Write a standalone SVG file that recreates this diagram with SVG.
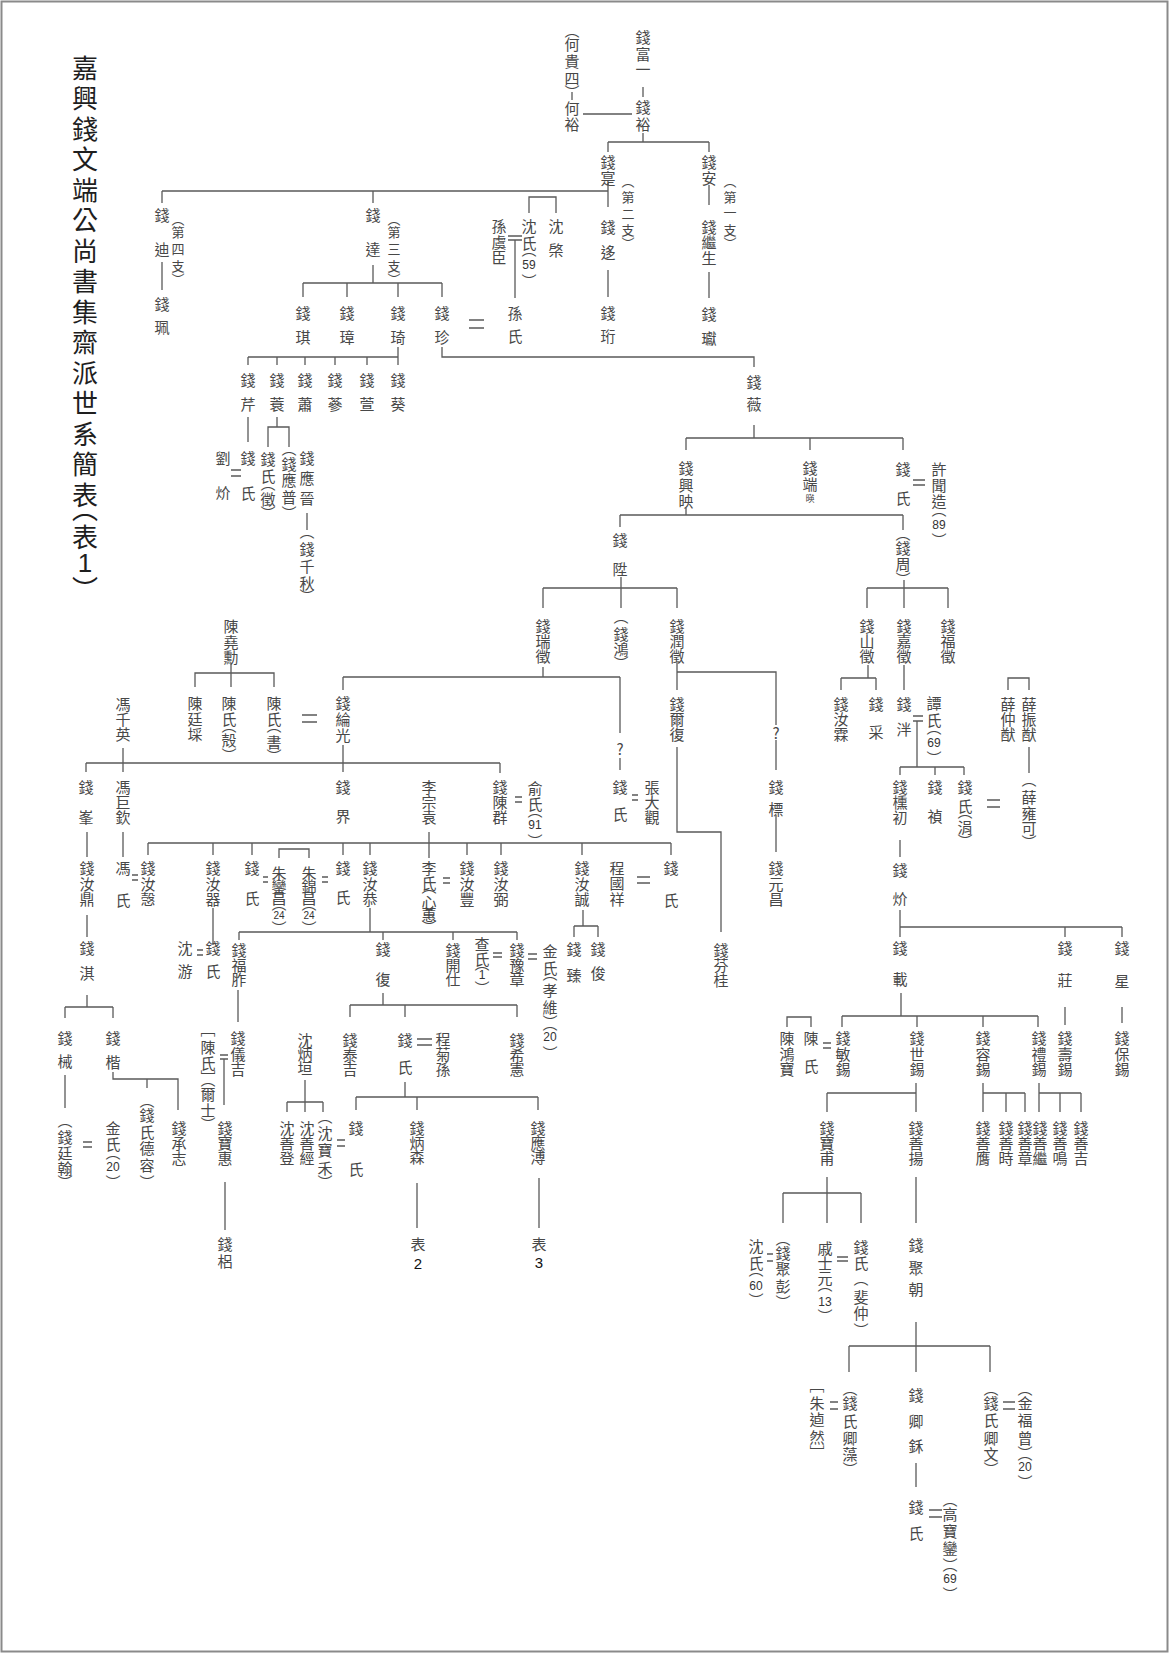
<svg xmlns="http://www.w3.org/2000/svg" width="1170" height="1654" viewBox="0 0 1170 1654">
<style>
.n{font-family:"Noto Sans CJK TC","Noto Sans CJK SC",sans-serif;font-size:15px;fill:#484848;text-anchor:middle;dominant-baseline:central}
.sm{font-size:13px}
.d{font-family:"Liberation Sans","DejaVu Sans",sans-serif;font-size:12px;fill:#333;text-anchor:middle;dominant-baseline:central}
.d2{font-size:10px}
.ttl{font-family:"Noto Sans CJK TC","Noto Sans CJK SC",sans-serif;font-size:26px;fill:#1e1e1e;text-anchor:middle;dominant-baseline:central}
.c path{stroke:#5a5a5a;stroke-width:1.3;fill:none}
</style>
<rect x="1.5" y="1.5" width="1166" height="1650" fill="#fff" stroke="#8a8a8a" stroke-width="2"/>
<g id="title">
<text class="ttl" x="85 85 85 85 85 85 85 85 85 85 85 85 85 85 85 85 85" y="66 96.5 127 157.5 188 218.5 249 279.5 310 340.5 371 401.5 432 462.5 493 507 535">嘉興錢文端公尚書集齋派世系簡表︵表</text>
<text class="ttl" x="85" y="563" style="font-family:'Liberation Sans',sans-serif">1</text>
<text class="ttl" x="85" y="587">︶</text>
</g>
<g class="c" id="connectors">
<path d="M643,87V97M572,92V100M583,114H632M643,133V142M608,142H709M608,142V152M709,142V152M608,183V207M162,191H608M162,191V203M373,191V203M709,185V205M709,272V298M608,270V297"/>
<path d="M529,213V197H556V213M508,236H522M508,240H522M515,240V298M162,262V290M373,265V283M303,283H442M303,283V297M347,283V297M398,283V297M442,283V297M469,320H484M469,328H484"/>
<path d="M398,347V365M248,357H398M248,357V365M277,357V365M305,357V365M335,357V365M367,357V365M442,347V357H754V367"/>
<path d="M248,417V442M231,470H241M231,476H241M277,417V427M268,447V427H289V447M307,513V530"/>
<path d="M231,663V687M195,687V673H274V687M302,715H317M302,722H317"/>
<path d="M343,677V690M343,677H620M543,667V677M620,677V733M620,758V770M343,745V772M123,748V772M86,763H500M86,763V772M500,763V773M515,797H522M515,802H522M632,795H638M632,800H638"/>
<path d="M677,663V690M677,672H776V725M776,740V770M776,815V852M677,747V832H721V932"/>
<path d="M754,425V438M686,438H903M686,438V450M810,438V450M903,438V450M913,480H925M913,485H925M686,508V515M620,515H903M620,515V527M903,515V530"/>
<path d="M621,577V608M543,588H677M543,588V608M677,588V608M904,580V608M867,588H948M867,588V608M948,588V608M868,665V678M841,678H876M841,678V690M876,678V690"/>
<path d="M904,665V690M913,716H923M913,721H923M917,721V767M900,767H964M900,767V775M935,767V775M964,767V775M987,800H1000M987,807H1000M1008,690V678H1029V690M1029,747V773"/>
<path d="M87,832V857M87,915V937M87,995V1007M65,1007H113M65,1007V1018M113,1007V1018M65,1075V1108M83,1142H92M83,1147H92M113,1072V1079H178V1110M147,1079V1088M123,832V857M132,875H138M132,880H138"/>
<path d="M148,843H671M148,843V855M213,843V855M252,843V855M343,843V855M370,843V855M467,843V855M501,843V855M582,843V855M671,843V855M279,858V849H309V858M429,832V858M263,877H268M263,882H268M322,877H328M322,882H328M443,878H450M443,883H450M637,877H650M637,883H650"/>
<path d="M213,908V945M197,950H203M197,955H203M370,908V932M239,932H517M239,932V940M383,932V940M453,932V940M517,932V940M493,953H502M493,957H502M528,954H537M528,959H537M583,910V926M574,926H598M574,926V937M598,926V937"/>
<path d="M238,990V1022M220,1055H228M220,1059H228M224,1059V1105M225,1182V1230M383,993V1005M350,1005H517M350,1005V1017M405,1005V1017M517,1005V1017M417,1039H432M417,1045H432"/>
<path d="M305,1080V1112M287,1102H323M287,1102V1112M323,1102V1112M337,1140H345M337,1146H345M405,1082V1097M356,1097H538M356,1097V1110M417,1097V1110M538,1097V1110M417,1183V1228M539,1178V1228"/>
<path d="M900,840V857M900,910V937M900,927H1122M1065,927V937M1122,927V937M1065,1007V1025M1122,1007V1023M901,993V1016M842,1016H1038M842,1016V1027M917,1016V1027M983,1016V1027M1038,1016V1027M823,1043H831M823,1048H831M787,1027V1017H811V1027"/>
<path d="M916,1083V1112M827,1093H916M827,1093V1112M983,1083V1112M983,1093H1025M1006,1093V1112M1025,1093V1112M1039,1083V1112M1039,1093H1081M1060,1093V1112M1081,1093V1112"/>
<path d="M827,1177V1193M783,1193H861M783,1193V1223M827,1193V1223M861,1193V1223M767,1254H773M767,1261H773M837,1257H848M837,1261H848M916,1177V1223M916,1322V1372M849,1346H990M849,1346V1372M990,1346V1372M830,1402H838M830,1409H838M916,1463V1487M929,1510H942M929,1517H942M1003,1402H1015M1003,1409H1015"/>
</g>
<g id="n001"><text class="n" x="643 643 643" y="36 53 68">錢富一</text></g>
<g id="n002"><text class="n" x="572 572 572 572 572" y="29.5 43 60 77 91">︵何貴四︶</text></g>
<g id="n003"><text class="n" x="572 572" y="107 123">何裕</text></g>
<g id="n004"><text class="n" x="643 643" y="106 123">錢裕</text></g>
<g id="n005"><text class="n" x="608 608" y="161 177">錢寔</text></g>
<g id="n006"><text class="n sm" x="628 628 628 628 628" y="180 196 213 229 242">︵第二支︶</text></g>
<g id="n007"><text class="n" x="709 709" y="161 177">錢安</text></g>
<g id="n008"><text class="n sm" x="730 730 730 730 730" y="180 196 211 229 242">︵第一支︶</text></g>
<g id="n009"><text class="n" x="709 709 709" y="226 241 257">錢繼生</text></g>
<g id="n010"><text class="n" x="709 709" y="313 337">錢瓛</text></g>
<g id="n011"><text class="n" x="608 608" y="226 251">錢迻</text></g>
<g id="n012"><text class="n" x="608 608" y="312 335">錢珩</text></g>
<g id="n013"><text class="n" x="529 529 529 529" y="225 242 248.5 280.5">沈氏︵︶</text><text class="d" x="529" y="265">59</text></g>
<g id="n014"><text class="n" x="556 556" y="225 249">沈棨</text></g>
<g id="n015"><text class="n" x="499 499 499" y="225 241 256">孫虞臣</text></g>
<g id="n016"><text class="n" x="515 515" y="312 335">孫氏</text></g>
<g id="n017"><text class="n" x="162 162" y="214 248">錢迪</text></g>
<g id="n018"><text class="n sm" x="178 178 178 178 178" y="218 231 248 265 278">︵第四支︶</text></g>
<g id="n019"><text class="n" x="162 162" y="303 326">錢珮</text></g>
<g id="n020"><text class="n" x="373 373" y="214 248">錢達</text></g>
<g id="n021"><text class="n sm" x="394 394 394 394 394" y="218 231 248 265 278">︵第三支︶</text></g>
<g id="n022"><text class="n" x="303 303" y="312 336">錢琪</text></g>
<g id="n023"><text class="n" x="347 347" y="312 336">錢璋</text></g>
<g id="n024"><text class="n" x="398 398" y="312 336">錢琦</text></g>
<g id="n025"><text class="n" x="442 442" y="312 336">錢珍</text></g>
<g id="n026"><text class="n" x="248 248" y="379 403">錢芹</text></g>
<g id="n027"><text class="n" x="277 277" y="379 403">錢蓑</text></g>
<g id="n028"><text class="n" x="305 305" y="379 403">錢蕭</text></g>
<g id="n029"><text class="n" x="335 335" y="379 403">錢蔘</text></g>
<g id="n030"><text class="n" x="367 367" y="379 403">錢萱</text></g>
<g id="n031"><text class="n" x="398 398" y="379 403">錢葵</text></g>
<g id="n032"><text class="n" x="754 754" y="381 403">錢薇</text></g>
<g id="n033"><text class="n" x="248 248" y="457 492">錢氏</text></g>
<g id="n034"><text class="n" x="223 223" y="457 492">劉炌</text></g>
<g id="n035"><text class="n" x="268 268 268 268 268" y="458 475 482.5 498 512.5">錢氏︵徵︶</text></g>
<g id="n036"><text class="n" x="289 289 289 289 289" y="447.5 463 479 496 512.5">︵錢應普︶</text></g>
<g id="n037"><text class="n" x="307 307 307" y="457 477 497">錢應晉</text></g>
<g id="n038"><text class="n" x="307 307 307 307 307" y="530.5 548 565 582 595">︵錢千秋︶</text></g>
<g id="n039"><text class="n" x="231 231 231" y="625 641 656">陳堯勳</text></g>
<g id="n040"><text class="n" x="195 195 195" y="702 718 733">陳廷埰</text></g>
<g id="n041"><text class="n" x="229 229 229 229 229" y="702 718 724.5 739 754.5">陳氏︵殻︶</text></g>
<g id="n042"><text class="n" x="274 274 274 274 274" y="702 718 724.5 741 755.5">陳氏︵書︶</text></g>
<g id="n043"><text class="n" x="343 343 343" y="702 718 734">錢綸光</text></g>
<g id="n044"><text class="n" x="123 123 123" y="703 718 733">馮千英</text></g>
<g id="n045"><text class="n" x="86 86" y="786 816">錢峯</text></g>
<g id="n046"><text class="n" x="123 123 123" y="786 801 816">馮巨欽</text></g>
<g id="n047"><text class="n" x="343 343" y="786 815">錢界</text></g>
<g id="n048"><text class="n" x="429 429 429" y="786 801 816">李宗袁</text></g>
<g id="n049"><text class="n" x="500 500 500" y="786 801 816">錢陳群</text></g>
<g id="n050"><text class="n" x="535 535 535 535" y="787 803 809.5 840.5">俞氏︵︶</text><text class="d" x="535" y="825">91</text></g>
<g id="n051"><text class="n" x="620" y="748">?</text></g>
<g id="n052"><text class="n" x="620 620" y="786 813">錢氏</text></g>
<g id="n053"><text class="n" x="652 652 652" y="786 801 816">張大觀</text></g>
<g id="n054"><text class="n" x="677 677 677" y="703 718 733">錢爾復</text></g>
<g id="n055"><text class="n" x="776" y="732">?</text></g>
<g id="n056"><text class="n" x="776 776" y="786 808">錢標</text></g>
<g id="n057"><text class="n" x="776 776 776" y="867 883 898">錢元昌</text></g>
<g id="n058"><text class="n" x="721 721 721" y="949 964 979">錢芬桂</text></g>
<g id="n059"><text class="n" x="686 686 686" y="467 484 500">錢興映</text></g>
<g id="n060"><text class="n" x="810 810" y="467 483">錢端</text><text class="n" x="810" y="498" style="font-size:9px">暎</text></g>
<g id="n061"><text class="n" x="903 903" y="468 497">錢氏</text></g>
<g id="n062"><text class="n" x="939 939 939 939 939" y="468 484 500 508.5 539.5">許聞造︵︶</text><text class="d" x="939" y="525">89</text></g>
<g id="n063"><text class="n" x="620 620" y="539 568">錢陞</text></g>
<g id="n064"><text class="n" x="903 903 903 903" y="532.5 547 563 578.5">︵錢周︶</text></g>
<g id="n065"><text class="n" x="543 543 543" y="625 640 655">錢瑞徵</text></g>
<g id="n066"><text class="n" x="621 621 621 621" y="615.5 633 648 662.5">︵錢鴻︶</text></g>
<g id="n067"><text class="n" x="677 677 677" y="625 640 655">錢潤徵</text></g>
<g id="n068"><text class="n" x="867 867 867" y="625 640 655">錢山徵</text></g>
<g id="n069"><text class="n" x="904 904 904" y="625 640 655">錢嘉徵</text></g>
<g id="n070"><text class="n" x="948 948 948" y="625 640 655">錢福徵</text></g>
<g id="n071"><text class="n" x="841 841 841" y="703 718 733">錢汝霖</text></g>
<g id="n072"><text class="n" x="876 876" y="703 731">錢采</text></g>
<g id="n073"><text class="n" x="904 904" y="703 728">錢泮</text></g>
<g id="n074"><text class="n" x="934 934 934 934" y="702 719 726.5 757.5">譚氏︵︶</text><text class="d" x="934" y="743">69</text></g>
<g id="n075"><text class="n" x="900 900 900" y="786 801 816">錢櫄初</text></g>
<g id="n076"><text class="n" x="935 935" y="786 815">錢禎</text></g>
<g id="n077"><text class="n" x="965 965 965 965 965" y="786 805 810.5 826 840.5">錢氏︵涓︶</text></g>
<g id="n078"><text class="n" x="1008 1008 1008" y="703 718 733">薛仲猷</text></g>
<g id="n079"><text class="n" x="1029 1029 1029" y="703 718 733">薛振猷</text></g>
<g id="n080"><text class="n" x="1029 1029 1029 1029 1029" y="778.5 796 812 827 841.5">︵薛雍可︶</text></g>
<g id="n081"><text class="n" x="87 87 87" y="867 883 898">錢汝鼎</text></g>
<g id="n082"><text class="n" x="87 87" y="947 972">錢淇</text></g>
<g id="n083"><text class="n" x="65 65" y="1037 1060">錢械</text></g>
<g id="n084"><text class="n" x="113 113" y="1037 1061">錢楷</text></g>
<g id="n085"><text class="n" x="65 65 65 65 65" y="1119.5 1136 1152 1167 1181.5">︵錢廷翰︶</text></g>
<g id="n086"><text class="n" x="113 113 113 113" y="1127 1143 1151.5 1181.5">金氏︵︶</text><text class="d" x="113" y="1167">20</text></g>
<g id="n087"><text class="n" x="147 147 147 147 147 147" y="1099.5 1114 1131 1147 1164 1181.5">︵錢氏德容︶</text></g>
<g id="n088"><text class="n" x="179 179 179" y="1127 1142 1157">錢承志</text></g>
<g id="n089"><text class="n" x="123 123" y="867 899">馮氏</text></g>
<g id="n090"><text class="n" x="148 148 148" y="867 883 898">錢汝愨</text></g>
<g id="n091"><text class="n" x="213 213 213" y="867 883 898">錢汝器</text></g>
<g id="n092"><text class="n" x="252 252" y="867 897">錢氏</text></g>
<g id="n093"><text class="n" x="279 279 279 279 279" y="872 885 897 902.5 927.5">朱鑾昌︵︶</text><text class="d d2" x="279" y="915">24</text></g>
<g id="n094"><text class="n" x="309 309 309 309 309" y="872 885 897 902.5 927.5">朱錦昌︵︶</text><text class="d d2" x="309" y="915">24</text></g>
<g id="n095"><text class="n" x="343 343" y="867 896">錢氏</text></g>
<g id="n096"><text class="n" x="370 370 370" y="867 883 898">錢汝恭</text></g>
<g id="n097"><text class="n" x="429 429 429 429 429 429" y="867 882 885.5 901 913 926.5">李氏︵心蕙︶</text></g>
<g id="n098"><text class="n" x="467 467 467" y="867 883 898">錢汝豐</text></g>
<g id="n099"><text class="n" x="501 501 501" y="867 883 898">錢汝弼</text></g>
<g id="n100"><text class="n" x="582 582 582" y="867 883 898">錢汝誠</text></g>
<g id="n101"><text class="n" x="617 617 617" y="867 882 898">程國祥</text></g>
<g id="n102"><text class="n" x="671 671" y="867 899">錢氏</text></g>
<g id="n103"><text class="n" x="213 213" y="947 970">錢氏</text></g>
<g id="n104"><text class="n" x="185 185" y="947 970">沈游</text></g>
<g id="n105"><text class="n" x="239 239 239" y="949 964 978">錢福胙</text></g>
<g id="n106"><text class="n" x="383 383" y="948 978">錢復</text></g>
<g id="n107"><text class="n" x="453 453 453" y="949 964 978">錢開仕</text></g>
<g id="n108"><text class="n" x="482 482 482 482" y="943 958 962.5 987.5">查氏︵︶</text><text class="d" x="482" y="975">1</text></g>
<g id="n109"><text class="n" x="517 517 517" y="949 964 978">錢豫章</text></g>
<g id="n110"><text class="n" x="550 550 550 550 550 550 550 550" y="950 967 972.5 989 1006 1021.5 1022.5 1052.5">金氏︵孝維︶︵︶</text><text class="d" x="550" y="1037">20</text></g>
<g id="n111"><text class="n" x="574 574" y="948 974">錢臻</text></g>
<g id="n112"><text class="n" x="598 598" y="948 972">錢俊</text></g>
<g id="n113"><text class="n" x="238 238 238" y="1037 1053 1068">錢儀吉</text></g>
<g id="n114"><text class="n" x="208 208 208 208 208 208 208 208" y="1028.5 1046 1062 1076.5 1078.5 1093 1109 1123.5">﹇陳氏﹈︵爾士︶</text></g>
<g id="n115"><text class="n" x="225 225 225" y="1127 1142 1157">錢寶惠</text></g>
<g id="n116"><text class="n" x="225 225" y="1243 1260">錢梠</text></g>
<g id="n117"><text class="n" x="350 350 350" y="1039 1054 1068">錢泰吉</text></g>
<g id="n118"><text class="n" x="405 405" y="1039 1066">錢氏</text></g>
<g id="n119"><text class="n" x="443 443 443" y="1038 1053 1068">程菊孫</text></g>
<g id="n120"><text class="n" x="517 517 517" y="1039 1054 1068">錢希憲</text></g>
<g id="n121"><text class="n" x="305 305 305" y="1039 1053 1067">沈炳垣</text></g>
<g id="n122"><text class="n" x="287 287 287" y="1127 1142 1157">沈善登</text></g>
<g id="n123"><text class="n" x="307 307 307" y="1127 1142 1157">沈善經</text></g>
<g id="n124"><text class="n" x="325 325 325 325 325" y="1115.5 1132 1149 1167 1181.5">︵沈寶禾︶</text></g>
<g id="n125"><text class="n" x="356 356" y="1127 1168">錢氏</text></g>
<g id="n126"><text class="n" x="417 417 417" y="1127 1142 1156">錢炳森</text></g>
<g id="n127"><text class="n" x="538 538 538" y="1127 1142 1156">錢應溥</text></g>
<g id="n128"><text class="n" x="418" y="1243">表</text><text class="d" x="418" y="1263" style="font-size:15px;fill:#111">2</text></g>
<g id="n129"><text class="n" x="539" y="1243">表</text><text class="d" x="539" y="1262" style="font-size:15px;fill:#111">3</text></g>
<g id="n130"><text class="n" x="900 900" y="869 898">錢炌</text></g>
<g id="n131"><text class="n" x="900 900" y="947 978">錢載</text></g>
<g id="n132"><text class="n" x="1065 1065" y="947 979">錢莊</text></g>
<g id="n133"><text class="n" x="1122 1122" y="947 980">錢星</text></g>
<g id="n134"><text class="n" x="1065 1065 1065" y="1037 1053 1068">錢壽錫</text></g>
<g id="n135"><text class="n" x="1122 1122 1122" y="1037 1053 1068">錢保錫</text></g>
<g id="n136"><text class="n" x="843 843 843" y="1037 1053 1068">錢敏錫</text></g>
<g id="n137"><text class="n" x="917 917 917" y="1037 1053 1068">錢世錫</text></g>
<g id="n138"><text class="n" x="983 983 983" y="1037 1053 1068">錢容錫</text></g>
<g id="n139"><text class="n" x="1039 1039 1039" y="1037 1053 1068">錢禮錫</text></g>
<g id="n140"><text class="n" x="787 787 787" y="1037 1053 1068">陳鴻寶</text></g>
<g id="n141"><text class="n" x="811 811" y="1037 1065">陳氏</text></g>
<g id="n142"><text class="n" x="827 827 827" y="1127 1142 1157">錢寶甫</text></g>
<g id="n143"><text class="n" x="916 916 916" y="1127 1142 1157">錢善揚</text></g>
<g id="n144"><text class="n" x="983 983 983" y="1127 1142 1157">錢善膺</text></g>
<g id="n145"><text class="n" x="1006 1006 1006" y="1127 1142 1157">錢善時</text></g>
<g id="n146"><text class="n" x="1025 1025 1025" y="1127 1142 1157">錢善章</text></g>
<g id="n147"><text class="n" x="1040 1040 1040" y="1127 1142 1157">錢善繼</text></g>
<g id="n148"><text class="n" x="1060 1060 1060" y="1127 1142 1157">錢善鳴</text></g>
<g id="n149"><text class="n" x="1081 1081 1081" y="1127 1142 1157">錢善吉</text></g>
<g id="n150"><text class="n" x="783 783 783 783 783" y="1237.5 1252 1268 1285 1301.5">︵錢聚彭︶</text></g>
<g id="n151"><text class="n" x="756 756 756 756" y="1245 1262 1268.5 1299.5">沈氏︵︶</text><text class="d" x="756" y="1286">60</text></g>
<g id="n152"><text class="n" x="825 825 825 825 825" y="1247 1262 1277 1283.5 1315.5">戚士元︵︶</text><text class="d" x="825" y="1302">13</text></g>
<g id="n153"><text class="n" x="861 861 861 861 861 861" y="1246 1262 1277.5 1296 1312 1329.5">錢氏︵斐仲︶</text></g>
<g id="n154"><text class="n" x="916 916 916" y="1244 1267 1288">錢聚朝</text></g>
<g id="n155"><text class="n" x="850 850 850 850 850 850" y="1387.5 1402 1420 1437 1453 1468.5">︵錢氏卿藻︶</text></g>
<g id="n156"><text class="n" x="817 817 817 817 817" y="1384.5 1402 1418 1436 1451.5">﹇朱逌然﹈</text></g>
<g id="n157"><text class="n" x="916 916 916" y="1394 1420 1445">錢卿鉌</text></g>
<g id="n158"><text class="n" x="916 916" y="1506 1532">錢氏</text></g>
<g id="n159"><text class="n" x="950 950 950 950 950 950 950" y="1498.5 1513 1530 1547 1564.5 1563.5 1593.5">︵高寶鑾︶︵︶</text><text class="d" x="950" y="1579">69</text></g>
<g id="n160"><text class="n" x="991 991 991 991 991 991" y="1387.5 1402 1419 1437 1453 1468.5">︵錢氏卿文︶</text></g>
<g id="n161"><text class="n" x="1025 1025 1025 1025 1025 1025 1025" y="1387.5 1402 1419 1437 1452.5 1452.5 1481.5">︵金福曾︶︵︶</text><text class="d" x="1025" y="1467">20</text></g>
</svg>
